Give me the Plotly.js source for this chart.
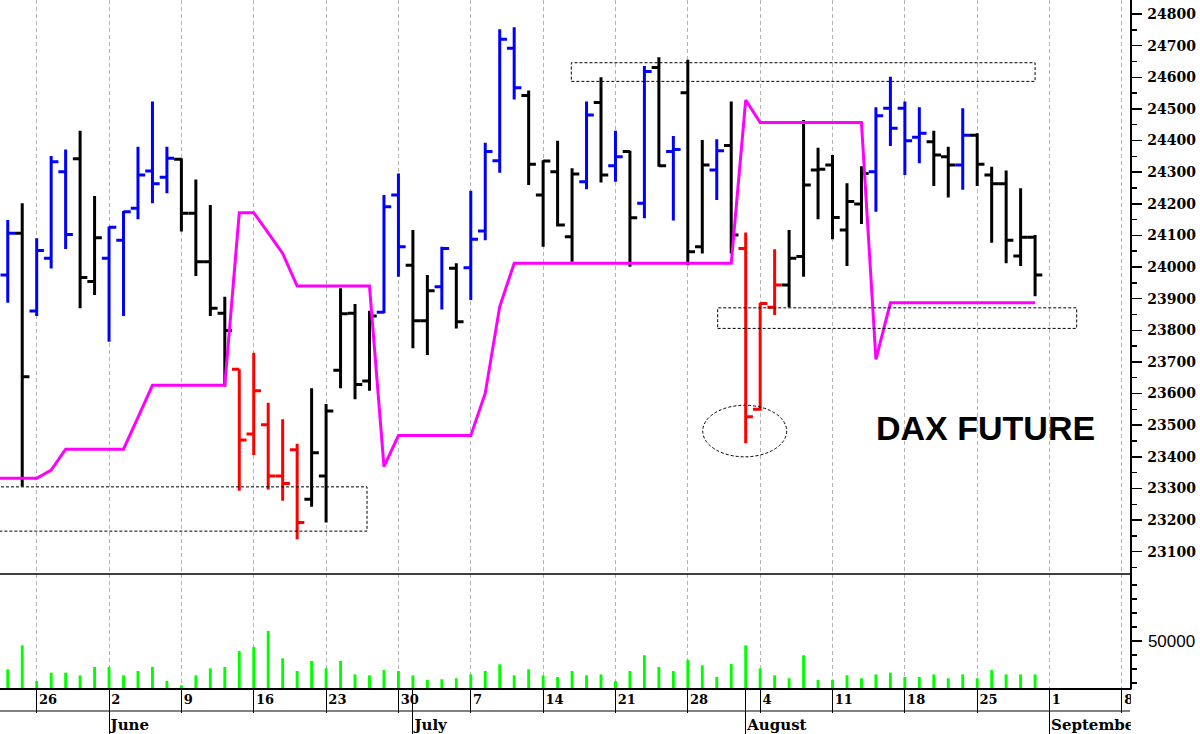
<!DOCTYPE html>
<html><head><meta charset="utf-8">
<script src="https://cdn.plot.ly/plotly-3.0.1.min.js"></script>
<style>html,body{margin:0;padding:0;background:#fff;}#chart{width:1200px;height:734px;}</style>
</head><body><div id="chart"></div>
<script>
// ---- data ----
const dates = [
 '2025-05-22','2025-05-23','2025-05-26','2025-05-27','2025-05-28','2025-05-29','2025-05-30',
 '2025-06-02','2025-06-03','2025-06-04','2025-06-05','2025-06-06','2025-06-09','2025-06-10','2025-06-11','2025-06-12','2025-06-13',
 '2025-06-16','2025-06-17','2025-06-18','2025-06-19','2025-06-20','2025-06-23','2025-06-24','2025-06-25','2025-06-26','2025-06-27','2025-06-30',
 '2025-07-01','2025-07-02','2025-07-03','2025-07-04','2025-07-07','2025-07-08','2025-07-09','2025-07-10','2025-07-11',
 '2025-07-14','2025-07-15','2025-07-16','2025-07-17','2025-07-18','2025-07-21','2025-07-22','2025-07-23','2025-07-24','2025-07-25',
 '2025-07-28','2025-07-29','2025-07-30','2025-07-31','2025-08-01',
 '2025-08-04','2025-08-05','2025-08-06','2025-08-07','2025-08-08','2025-08-11','2025-08-12','2025-08-13','2025-08-14','2025-08-15',
 '2025-08-18','2025-08-19','2025-08-20','2025-08-21','2025-08-22','2025-08-25','2025-08-26','2025-08-27','2025-08-28','2025-08-29'];
const opens = [23975,24107,23861,24028,24301,24342,23954,24028,24085,24186,24304,24284,24341,24170,24017,23854,
 23677,23472,23501,23339,23422,23266,23339,23674,23854,23640,23857,24228,24006,23830,23938,23996,23998,24114,24336,24692,
 24542,24228,24301,24096,24270,24520,24320,24365,24202,24631,24365,24551,24064,24307,24384,24059,23550,23873,23943,24033,
 24307,24323,24117,24199,24301,24502,24502,24410,24396,24349,24323,24417,24291,24263,24035,24094];
const highs = [24149,24202,24091,24351,24372,24431,24225,24128,24177,24380,24523,24380,24344,24277,24196,23906,
 23677,23729,23571,23519,23441,23617,23567,23933,23883,23862,24228,24296,24117,23975,24064,24012,24241,24393,24752,24758,
 24558,24338,24399,24312,24523,24600,24431,24368,24636,24663,24414,24655,24402,24404,24523,24109,23887,24056,24117,24465,
 24377,24354,24265,24319,24505,24602,24523,24505,24431,24380,24502,24423,24317,24305,24249,24101];
const lows = [23887,23306,23845,23995,24057,23870,23912,23764,23845,24151,24202,24233,24112,23972,23845,23622,
 23293,23406,23297,23261,23139,23242,23192,23617,23582,23609,23854,23969,23743,23722,23866,23806,23896,24085,24298,24530,
 24259,24064,24128,24017,24246,24267,24270,24001,24154,24317,24147,24006,24043,24212,24043,23443,23546,23848,23873,23969,
 24151,24088,24003,24136,24175,24383,24291,24328,24256,24220,24244,24256,24077,24012,24003,23908];
const closes = [24107,23653,24052,24333,24103,23967,24093,24126,24175,24291,24263,24344,24170,24017,23870,23799,
 23453,23609,23339,23316,23192,23413,23545,23852,23629,23845,24191,24064,23830,23925,24059,23827,24088,24365,24720,24567,
 24325,24335,24133,24294,24481,24291,24349,24156,24618,24320,24372,24048,24323,24368,24101,23527,23885,23943,24028,24259,
 24309,24157,24207,24296,24478,24439,24399,24423,24354,24323,24417,24325,24263,24085,24094,23975];
const barColors = ['blue','black','blue','blue','blue','black','black','blue','blue','blue','blue','blue','black','black','black','black',
 'red','red','red','red','red','black','black','black','black','black','blue','blue','black','black','blue','black','blue','blue','blue','blue',
 'black','black','black','black','blue','black','blue','black','blue','black','blue','black','black','blue','black','red','red','red','black','black',
 'black','black','black','black','blue','blue','blue','blue','black','black','blue','black','black','black','black','black'];
const volumes = [29700,46900,21350,27300,27300,25400,31400,31400,25400,28500,31400,21350,18300,25400,30400,31400,
 42800,45700,57200,37600,28500,35700,30400,35700,26100,25400,29200,28500,25400,22100,22600,23300,26100,28500,33300,25400,
 29700,25400,24200,28500,25400,26100,21350,28500,39800,31400,28500,36400,32600,24200,33500,46900,30400,25400,23300,39800,
 22100,22100,25400,23300,26100,27300,24200,24200,26100,23300,26100,23300,29200,26100,26100,26100];
const stopDates = ['2025-05-21'].concat(dates);
const stopValues = [23332,23332,23332,23332,23358,23424,23424,23424,23424,23424,23525,23626,23626,23626,23626,23626,23626,
 24172,24172,24108,24043,23940,23940,23940,23940,23940,23940,23369,23467,23467,23467,23467,23467,23467,23601,23875,24012,
 24012,24012,24012,24012,24012,24012,24012,24012,24012,24012,24012,24012,24012,24012,24012,24528,24457,24457,24457,24457,
 24457,24457,24457,24457,23708,23887,23887,23887,23887,23887,23887,23887,23887,23887,23887,23887];
const weekTicks = ['2025-05-26','2025-06-02','2025-06-09','2025-06-16','2025-06-23','2025-06-30','2025-07-07','2025-07-14',
 '2025-07-21','2025-07-28','2025-08-04','2025-08-11','2025-08-18','2025-08-25','2025-09-01','2025-09-08'];
const weekLabels = ['26','2','9','16','23','30','7','14','21','28','4','11','18','25','1','8'];
const monthTicks = ['2025-06-02','2025-07-01','2025-08-01','2025-09-01'];
const monthLabels = ['June','July','August','September'];
const colorHex = {blue:'#0000ff', black:'#000000', red:'#ff0000'};

// ---- traces ----
function ohlcFor(name){
  const idx = dates.map((d,i)=>i).filter(i=>barColors[i]===name);
  const c = colorHex[name];
  return {type:'ohlc', xaxis:'x', yaxis:'y',
    x: idx.map(i=>dates[i]), open: idx.map(i=>opens[i]), high: idx.map(i=>highs[i]),
    low: idx.map(i=>lows[i]), close: idx.map(i=>closes[i]),
    tickwidth: 0.5, line:{width:3},
    increasing:{line:{color:c,width:3}}, decreasing:{line:{color:c,width:3}},
    hoverinfo:'skip', showlegend:false};
}
const traces = [
  {type:'bar', x:dates, y:volumes, xaxis:'x', yaxis:'y2', marker:{color:'#00ff00', line:{width:0}},
   width:0.2*86400000, hoverinfo:'skip', showlegend:false},
  {type:'scatter', mode:'lines', x:stopDates, y:stopValues, xaxis:'x', yaxis:'y',
   line:{color:'#ff00ff', width:3}, hoverinfo:'skip', showlegend:false},
  ohlcFor('black'), ohlcFor('blue'), ohlcFor('red'),
  {type:'scatter', mode:'markers', x:[monthTicks[0]], y:[null], xaxis:'x2', yaxis:'y2', hoverinfo:'skip', showlegend:false}
];

const xRange = ['2025-05-21 11:08','2025-09-08 13:26'];
const breaks = [{bounds:['sat','mon']}];
const dotted = {color:'#000', width:1, dash:'3px,2px'};
const PRICE_BOTTOM = 114/688;

const layout = {
  width:1200, height:734, margin:{l:0, r:70, t:0, b:46, pad:0},
  paper_bgcolor:'#ffffff', plot_bgcolor:'#ffffff', showlegend:false, hovermode:false,
  xaxis:{type:'date', range:xRange, rangebreaks:breaks, rangeslider:{visible:false}, anchor:'y2',
    tickmode:'array', tickvals:weekTicks, ticktext:weekLabels,
    ticks:'outside', ticklen:23, tickwidth:1, tickcolor:'#000',
    ticklabelposition:'outside right', ticklabelstandoff:-1, ticklabelshift:1,
    tickfont:{family:'DejaVu Serif', size:13, color:'#000', weight:'bold'},
    showgrid:true, gridcolor:'#b4b4b4', griddash:'4px,3px', gridwidth:1,
    showline:true, linecolor:'#000', linewidth:1.5, zeroline:false, fixedrange:true},
  xaxis2:{type:'date', range:xRange, rangebreaks:breaks, overlaying:'x', anchor:'y2', side:'bottom',
    tickmode:'array', tickvals:monthTicks, ticktext:monthLabels,
    ticks:'outside', ticklen:46, tickwidth:1, tickcolor:'#000',
    ticklabelposition:'outside right', ticklabelstandoff:23, ticklabelshift:1,
    tickfont:{family:'DejaVu Serif', size:15, color:'#000', weight:'bold'},
    showgrid:false, showline:false, zeroline:false, fixedrange:true},
  yaxis:{domain:[PRICE_BOTTOM,1], range:[23029.5,24844.3], side:'right', anchor:'x',
    tickmode:'linear', tick0:0, dtick:100, tickformat:'d', ticks:'outside', ticklen:10, tickwidth:1.5, tickcolor:'#000',
    ticklabelstandoff:3,
    minor:{dtick:50, tick0:0, ticks:'outside', ticklen:5, tickwidth:1.5, tickcolor:'#000', showgrid:false},
    tickfont:{family:'DejaVu Serif', size:14, color:'#000', weight:'bold'},
    showline:true, linecolor:'#000', linewidth:1.5, showgrid:false, zeroline:false, fixedrange:true},
  yaxis2:{domain:[0,PRICE_BOTTOM], range:[16333,97994], side:'right', anchor:'x',
    tickmode:'array', tickvals:[50000], ticktext:['50000'], ticks:'outside', ticklen:10, tickwidth:1.5, tickcolor:'#000',
    ticklabelstandoff:3,
    minor:{tickmode:'array', tickvals:[20000,30000,40000,60000,70000,80000,90000], ticks:'outside', ticklen:5, tickwidth:1.5, tickcolor:'#000', showgrid:false},
    tickfont:{family:'Liberation Sans', size:17, color:'#000'},
    showline:true, linecolor:'#000', linewidth:1.5, showgrid:false, zeroline:false, fixedrange:true},
  shapes:[
    {type:'line', xref:'paper', yref:'paper', x0:0, x1:1, y0:PRICE_BOTTOM, y1:PRICE_BOTTOM, line:{color:'#000', width:1.5}},
    {type:'line', xref:'paper', yref:'paper', x0:0, x1:1, y0:-23/688, y1:-23/688, line:{color:'#000', width:1}},
    {type:'rect', xref:'x', yref:'y', x0:'2025-05-19', x1:'2025-06-25 19:55', y0:23165, y1:23305, line:dotted},
    {type:'rect', xref:'x', yref:'y', x0:'2025-07-15 22:48', x1:'2025-08-29 00:00', y0:24587, y1:24646, line:dotted},
    {type:'rect', xref:'x', yref:'y', x0:'2025-07-30 01:30', x1:'2025-09-02 21:00', y0:23806, y1:23871, line:dotted},
    {type:'circle', xref:'x', yref:'y', x0:'2025-07-29 00:43', x1:'2025-08-05 20:00', y0:23400, y1:23563, line:dotted},
    {type:'rect', xref:'paper', yref:'paper', layer:'above', x0:1.0008, x1:1.08, y0:-0.002, y1:-0.08, fillcolor:'#ffffff', line:{width:0}}
  ],
  annotations:[
    {xref:'paper', yref:'paper', x:874/1130, y:(688-428)/688, xanchor:'left', yanchor:'middle', showarrow:false,
     text:'DAX FUTURE', font:{family:'Liberation Sans', size:34, color:'#000', weight:'bold'}}
  ]
};
Plotly.newPlot('chart', traces, layout, {staticPlot:true, displayModeBar:false});
</script></body></html>
